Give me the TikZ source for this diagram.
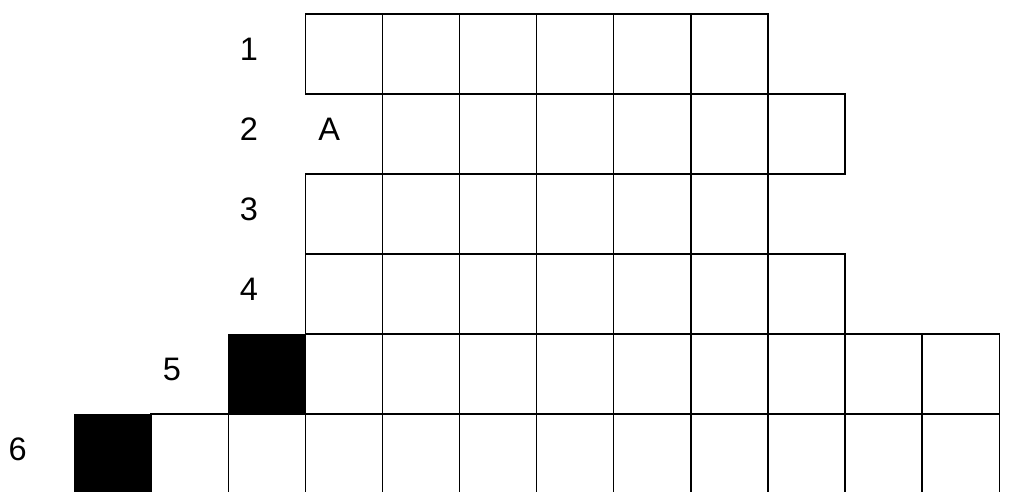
\documentclass[tikz,border=0pt]{standalone}
\usepackage{fontspec}
\setmainfont{Liberation Sans}
\tikzset{
    cell/.style={draw, line width=0.5pt},
    rowlabel/.style={font=\fontsize{12}{14}\selectfont, inner sep=0pt}
}
\begin{document}
\begin{tikzpicture}[x=1cm, y=1.0376cm]
    \useasboundingbox (-3.96, 0.175) rectangle (9.412, -5.9625);
    % rows: number / first column / last column
    \foreach \r/\a/\b in {1/0/5, 2/1/6, 3/0/5, 4/0/6, 5/0/8, 6/-2/8} {
        \foreach \x in {\a,...,\b} {
            \draw[cell] (\x, -\r+1) rectangle (\x+1, -\r);
        }
    }
    % black squares
    \fill (-1, -4) rectangle (0, -5);
    \fill (-3, -5) rectangle (-2, -6);
    % labels
    \foreach \r/\x in {1/-0.73, 2/-0.73, 3/-0.73, 4/-0.73, 5/-1.73, 6/-3.73} {
        \node[rowlabel] (lab\r) at (\x, -\r+0.56) {\r};
    }
    \node[rowlabel] (letterA) at (0.31, -1.44) {A};
\end{tikzpicture}
\end{document}
